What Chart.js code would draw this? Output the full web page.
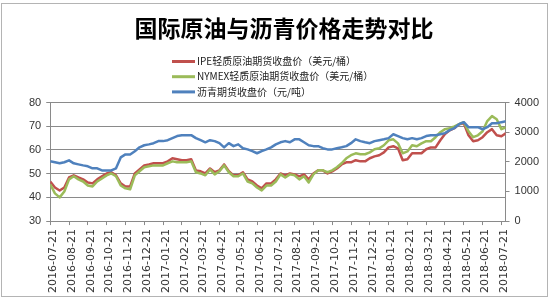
<!DOCTYPE html>
<html>
<head>
<meta charset="utf-8">
<script src="https://cdn.jsdelivr.net/npm/chart.js@4.4.1/dist/chart.umd.min.js"></script>
<style>
  html, body { margin: 0; padding: 0; background: #fff; }
  #wrap { width: 550px; height: 300px; position: relative; }
</style>
</head>
<body>
<div id="wrap"><canvas id="chart"></canvas></div>
<script>
'use strict';

// month labels shown under the x axis, one per tick
const tickLabels = [
  '2016-07-21', '2016-08-21', '2016-09-21', '2016-10-21', '2016-11-21', '2016-12-21',
  '2017-01-21', '2017-02-21', '2017-03-21', '2017-04-21', '2017-05-21', '2017-06-21',
  '2017-07-21', '2017-08-21', '2017-09-21', '2017-10-21', '2017-11-21', '2017-12-21',
  '2018-01-21', '2018-02-21', '2018-03-21', '2018-04-21', '2018-05-21', '2018-06-21',
  '2018-07-21'
];

// readings taken about once a week (4 per month)
const pointsPerMonth = 4;

// IPE light crude close, USD/bbl (left axis)
const ipeClose = [
  46.7, 44.2, 42.9, 44.2, 48.4, 49.3, 48.4, 47.6, 46.3, 45.9,
  47.6, 48.9, 50.1, 50.6, 49.3, 45.9, 44.6, 44.6, 50.1, 51.8,
  53.5, 53.9, 54.4, 54.4, 54.4, 55.2, 56.5, 56.1, 55.7, 55.7,
  56.1, 51.4, 51.0, 50.1, 52.2, 50.6, 51.4, 53.9, 51.0, 49.3,
  49.3, 50.6, 47.6, 46.7, 45.0, 43.8, 45.9, 45.9, 47.6, 50.1,
  49.3, 50.1, 49.7, 48.9, 49.7, 47.6, 50.1, 51.4, 51.4, 50.1,
  51.0, 52.2, 53.9, 54.8, 54.8, 55.7, 55.2, 55.2, 56.5, 57.3,
  57.8, 59.0, 61.1, 61.6, 60.7, 55.7, 56.1, 58.6, 58.6, 58.6,
  60.3, 61.1, 61.1, 64.1, 66.7, 68.3, 69.2, 70.9, 71.3, 66.2,
  63.7, 64.1, 65.4, 67.5, 68.8, 66.2, 65.8, 67.1
];

// NYMEX light crude close, USD/bbl (left axis)
const nymexClose = [
  45.5, 41.7, 40.0, 42.5, 47.6, 48.9, 47.6, 46.7, 45.0, 44.6,
  46.7, 48.0, 49.3, 50.1, 48.9, 45.0, 43.8, 43.4, 49.3, 51.0,
  52.7, 53.1, 53.5, 53.5, 53.5, 54.4, 55.2, 54.8, 54.8, 54.8,
  55.2, 50.6, 50.1, 49.3, 51.8, 49.7, 51.0, 53.5, 50.6, 48.9,
  48.9, 50.1, 46.7, 45.9, 44.2, 42.9, 45.0, 45.0, 46.7, 49.7,
  48.4, 49.7, 49.3, 47.6, 48.9, 46.3, 49.7, 51.4, 51.4, 50.6,
  51.4, 52.7, 54.4, 56.5, 57.8, 58.6, 58.2, 58.2, 59.0, 60.3,
  60.7, 62.0, 64.1, 64.5, 62.8, 58.6, 59.4, 62.0, 61.6, 62.8,
  63.7, 63.7, 65.4, 67.5, 68.8, 69.2, 70.0, 70.9, 71.7, 67.9,
  65.4, 66.2, 67.9, 72.2, 74.3, 73.0, 68.8, 69.6
];

// asphalt futures close, CNY/t (right axis)
const asphaltClose = [
  2020, 1985, 1950, 1985, 2050, 1950, 1915, 1880, 1850, 1780,
  1780, 1710, 1710, 1710, 1780, 2150, 2250, 2250, 2360, 2490,
  2560, 2590, 2630, 2700, 2700, 2730, 2800, 2870, 2900, 2900,
  2900, 2800, 2730, 2660, 2730, 2700, 2630, 2490, 2630, 2530,
  2590, 2460, 2420, 2360, 2290, 2360, 2420, 2490, 2590, 2660,
  2700, 2660, 2760, 2760, 2660, 2560, 2530, 2530, 2460, 2420,
  2420, 2460, 2490, 2530, 2630, 2760, 2700, 2660, 2630, 2700,
  2730, 2760, 2800, 2930, 2870, 2800, 2760, 2800, 2760, 2800,
  2870, 2900, 2900, 2930, 2970, 3070, 3140, 3270, 3340, 3170,
  3170, 3170, 3100, 3170, 3300, 3300, 3340, 3370
];

const seriesNames = [
  'IPE轻质原油期货收盘价（美元/桶）',
  'NYMEX轻质原油期货收盘价（美元/桶）',
  '沥青期货收盘价（元/吨）'
];

function toPoints(values) {
  return values.map(function (v, i) {
    return { x: i / pointsPerMonth, y: v };
  });
}

const axisGray = '#8a8a8a';
const labelColor = '#333';
const cjkFont = '"Noto Sans CJK SC", sans-serif';

// white background, outer frame and the stacked legend
const frameLegend = {
  id: 'frameLegend',
  beforeDraw: function (chart) {
    const ctx = chart.ctx;
    ctx.save();
    ctx.fillStyle = '#fff';
    ctx.fillRect(0, 0, chart.width, chart.height);
    ctx.strokeStyle = '#b4b4b4';
    ctx.lineWidth = 1;
    ctx.strokeRect(1.5, 3.5, chart.width - 4, chart.height - 7);
    ctx.restore();
  },
  afterDraw: function (chart) {
    const ctx = chart.ctx;
    ctx.save();
    ctx.font = '10px ' + cjkFont;
    ctx.textBaseline = 'middle';
    ctx.textAlign = 'left';
    chart.data.datasets.forEach(function (ds, row) {
      const y = 61.5 + row * 15.2;
      ctx.strokeStyle = ds.borderColor;
      ctx.lineWidth = 3;
      ctx.beginPath();
      ctx.moveTo(172, y);
      ctx.lineTo(195, y);
      ctx.stroke();
      ctx.fillStyle = '#222';
      ctx.fillText(ds.label, 197, y);
    });
    ctx.restore();
  }
};

new Chart(document.getElementById('chart'), {
  type: 'line',
  data: {
    datasets: [
      {
        label: seriesNames[0],
        data: toPoints(ipeClose),
        yAxisID: 'y',
        borderColor: '#c0504d',
        borderWidth: 2.5,
        order: 3
      },
      {
        label: seriesNames[1],
        data: toPoints(nymexClose),
        yAxisID: 'y',
        borderColor: '#9bbb59',
        borderWidth: 2.5,
        order: 2
      },
      {
        label: seriesNames[2],
        data: toPoints(asphaltClose),
        yAxisID: 'y1',
        borderColor: '#4f81bd',
        borderWidth: 2.5,
        order: 1
      }
    ]
  },
  options: {
    responsive: true,
    maintainAspectRatio: false,
    animation: false,
    elements: {
      point: { radius: 0 },
      line: { tension: 0, borderJoinStyle: 'round' }
    },
    layout: {
      padding: { left: 24, right: 6, top: 0, bottom: 3 }
    },
    plugins: {
      legend: { display: false },
      tooltip: { enabled: false },
      title: {
        display: true,
        text: '国际原油与沥青价格走势对比',
        color: '#000',
        font: { family: cjkFont, size: 23, weight: 'bold' },
        padding: { top: 14, bottom: 61 }
      }
    },
    scales: {
      x: {
        type: 'linear',
        min: 0,
        max: 24.22,
        afterBuildTicks: function (scale) {
          scale.ticks = tickLabels.map(function (_, i) { return { value: i }; });
        },
        grid: {
          drawOnChartArea: false,
          tickLength: 4,
          tickColor: axisGray
        },
        border: { color: axisGray },
        ticks: {
          autoSkip: false,
          minRotation: 90,
          maxRotation: 90,
          padding: 4,
          labelOffset: 3,
          color: labelColor,
          font: { family: '"DejaVu Sans"', size: 11 },
          callback: function (value) {
            return tickLabels[value];
          }
        }
      },
      y: {
        position: 'left',
        min: 30,
        max: 80,
        grid: {
          color: axisGray,
          tickLength: 4
        },
        border: { color: axisGray },
        ticks: {
          stepSize: 10,
          padding: 5,
          color: labelColor,
          font: { family: '"Liberation Sans"', size: 11 }
        }
      },
      y1: {
        position: 'right',
        min: 0,
        max: 4000,
        grid: {
          drawOnChartArea: false,
          tickLength: 4,
          tickColor: axisGray
        },
        border: { color: axisGray },
        ticks: {
          stepSize: 500,
          padding: 5,
          color: labelColor,
          font: { family: '"Liberation Sans"', size: 11 },
          callback: function (value) {
            return String(value);
          }
        }
      }
    }
  },
  plugins: [frameLegend]
});
</script>
</body>
</html>
